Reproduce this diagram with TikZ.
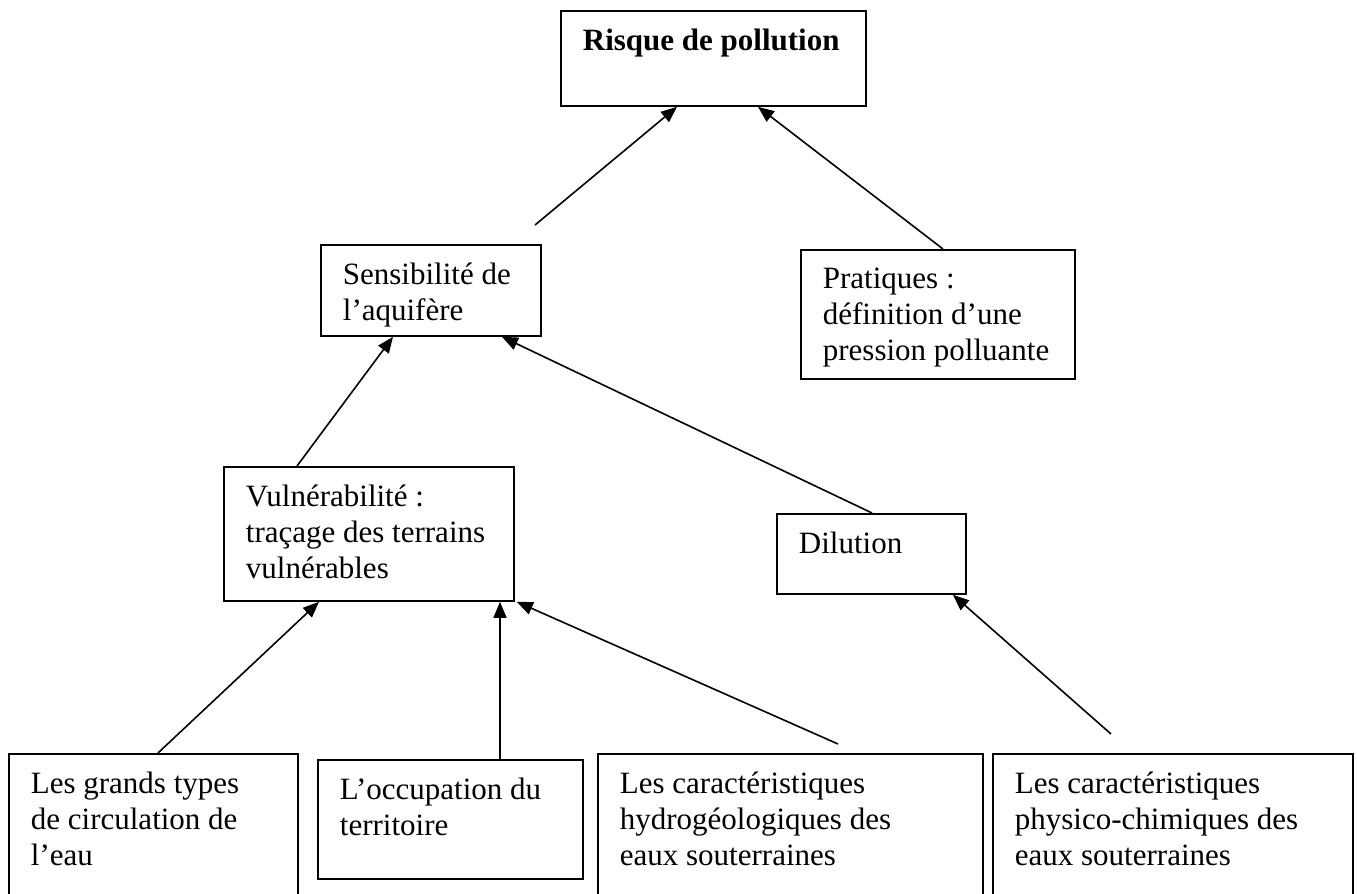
\documentclass[tikz,border=0pt]{standalone}
\usepackage{fontspec}
\setmainfont{Liberation Serif}
\usetikzlibrary{arrows.meta,calc}
\tikzset{
  boite/.style={draw,line width=0.9pt,inner xsep=11pt,inner ysep=9pt,anchor=north west},
  fleche/.style={-{Triangle[length=8pt,width=6.5pt]},line width=0.8pt},
}
\newcommand{\cadre}[3]{\parbox[c][#2][t]{#1}{\raggedright #3}}
\begin{document}
\begin{tikzpicture}[x=0.5pt,y=-0.5pt]
 \fontsize{15.5pt}{18pt}\selectfont
 \clip (0,0) rectangle (1357,894);
 \node[boite] (risque) at (560,10) {\cadre{130.5pt}{29.5pt}{\textbf{Risque de pollution}}};
 \node[boite] (sens) at (320,244) {\cadre{88pt}{27.5pt}{Sensibilité de\\l’aquifère}};
 \node[boite] (prat) at (800,249) {\cadre{115pt}{46.5pt}{Pratiques :\\définition d’une\\pression polluante}};
 \node[boite] (vuln) at (223,466) {\cadre{123pt}{49pt}{Vulnérabilité :\\traçage des terrains\\vulnérables}};
 \node[boite] (dil) at (776,513) {\cadre{72.5pt}{22pt}{Dilution}};
 \node[boite] (circ) at (8,753) {\cadre{122.5pt}{67pt}{Les grands types\\de circulation de\\l’eau}};
 \node[boite] (occ) at (317,759) {\cadre{110.5pt}{41.5pt}{L’occupation du\\territoire}};
 \node[boite] (hydro) at (597,753) {\cadre{170.5pt}{67pt}{Les caractéristiques\\hydrogéologiques des\\eaux souterraines}};
 \node[boite] (phys) at (992,753) {\cadre{158pt}{67pt}{Les caractéristiques\\physico-chimiques des\\eaux souterraines}};
 \coordinate (libre1) at (535,225);
 \coordinate (libre2) at (838,744);
 \coordinate (libre3) at (1111,734);
 \draw[fleche] (libre1) -- ($(risque.south west)+(117,0)$);
 \draw[fleche] ($(prat.north west)+(143,0)$) -- ($(risque.south west)+(198,0)$);
 \draw[fleche] ($(vuln.north west)+(74,0)$) -- ($(sens.south west)+(73,0)$);
 \draw[fleche] ($(dil.north west)+(96,0)$) -- ($(sens.south west)+(182,0)$);
 \draw[fleche] ($(circ.north west)+(150,0)$) -- ($(vuln.south west)+(96,0)$);
 \draw[fleche] ($(occ.north west)+(183,0)$) -- ($(vuln.south west)+(277,0)$);
 \draw[fleche] (libre2) -- ($(vuln.south east)+(2,0)$);
 \draw[fleche] (libre3) -- ($(dil.south west)+(177,0)$);
\end{tikzpicture}
\end{document}
